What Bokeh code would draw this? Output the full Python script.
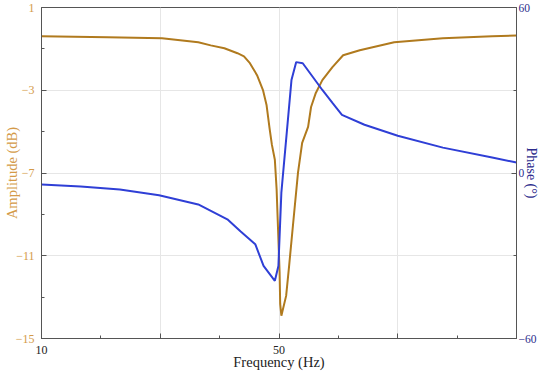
from bokeh.plotting import figure
from bokeh.models import Range1d, LinearAxis, FixedTicker
from bokeh.embed import file_html
from bokeh.resources import INLINE

# ---- data ----
freq_amp = [10, 21.1, 30.3, 36.4, 38.5, 40.8, 43.0, 44.1, 45.1, 46.3, 47.3, 47.9, 48.4, 48.8,
            49.3, 49.6, 49.7, 49.9, 50.1, 50.2, 50.4, 51.2, 51.7, 52.4, 53.2, 53.9, 54.9, 55.4,
            56.2, 57.3, 59.0, 60.8, 63.6, 69.4, 77.6, 85.9, 90]
amp_db = [-0.39, -0.44, -0.49, -0.68, -0.83, -0.97, -1.21, -1.36, -1.69, -2.27, -2.99, -3.71,
          -4.82, -5.63, -6.36, -7.80, -8.62, -10.20, -11.79, -13.33, -13.90, -12.94, -11.50,
          -9.38, -6.98, -5.54, -4.77, -3.81, -3.13, -2.51, -1.88, -1.31, -1.07, -0.68, -0.49,
          -0.39, -0.35]

freq_phase = [10, 16.6, 23.2, 29.8, 36.4, 41.3, 43.5, 46.0, 47.4, 49.3, 49.9, 50.4, 51.2, 52.1,
              52.9, 54.0, 55.7, 57.3, 59.0, 60.6, 64.4, 70.0, 77.6, 85.9, 90]
phase_deg = [-4.2, -4.9, -6.0, -8.1, -11.4, -16.8, -21.1, -25.8, -33.7, -39.1, -33.7, -7.0,
             12.1, 33.7, 40.2, 39.8, 34.8, 30.1, 25.4, 21.1, 17.5, 13.5, 9.2, 5.6, 3.8]

x_ticks = [10, 30, 50, 70, 90]
x_tick_labels = ["10", "", "50", "", ""]
x_minor = [20, 40, 60, 80]
amp_ticks = [1, -3, -7, -11, -15]
amp_tick_labels = ["1", "\u22123", "\u22127", "\u221211", "\u221215"]
amp_minor = [-1, -5, -9, -13]
phase_ticks = [60, 0, -60]
phase_tick_labels = ["60", "0", "\u221260"]
phase_minor = [30, -30]

ORANGE_LINE = "#B07A1E"
ORANGE_TXT = "#D49A48"
BLUE_LINE = "#2F3FD6"
NAVY_TXT = "#2C2C8C"
FONT = "Liberation Serif"

p = figure(width=542, height=372, output_backend="svg", toolbar_location=None,
           x_range=Range1d(10, 90), y_range=Range1d(-15, 1),
           min_border_top=7, min_border_left=0, min_border_right=0, min_border_bottom=0)
p.extra_y_ranges = {"phase": Range1d(-60, 60)}
p.outline_line_color = "#555555"
p.outline_line_width = 1

p.line(freq_amp, amp_db, line_color=ORANGE_LINE, line_width=2)
p.line(freq_phase, phase_deg, line_color=BLUE_LINE, line_width=2, y_range_name="phase")

# x axis
xa = p.xaxis[0]
xa.ticker = FixedTicker(ticks=x_ticks, minor_ticks=x_minor)
xa.major_label_overrides = {t: l for t, l in zip(x_ticks, x_tick_labels)}
xa.axis_label = "Frequency (Hz)"

# left axis
ya = p.yaxis[0]
ya.ticker = FixedTicker(ticks=amp_ticks, minor_ticks=amp_minor)
ya.major_label_overrides = {t: l for t, l in zip(amp_ticks, amp_tick_labels)}
ya.axis_label = "Amplitude (dB)"

# right axis
ra = LinearAxis(y_range_name="phase",
                ticker=FixedTicker(ticks=phase_ticks, minor_ticks=phase_minor))
ra.major_label_overrides = {t: l for t, l in zip(phase_ticks, phase_tick_labels)}
ra.axis_label = "Phase (\u00b0)"
p.add_layout(ra, "right")

for ax in (xa, ya, ra):
    ax.axis_line_color = "#555555"
    ax.major_tick_line_color = "#555555"
    ax.minor_tick_line_color = "#555555"
    ax.major_tick_in = 5
    ax.major_tick_out = 0
    ax.minor_tick_in = 3
    ax.minor_tick_out = 0
    ax.major_label_text_font = FONT
    ax.axis_label_text_font = FONT
    ax.major_label_text_font_size = "12px"
    ax.axis_label_text_font_size = "14.5px"
    ax.axis_label_text_font_style = "normal"

xa.major_label_text_color = "#222222"
xa.axis_label_text_color = "#222222"
xa.major_label_standoff = 7
xa.axis_label_standoff = -3

ya.major_label_text_color = ORANGE_TXT
ya.axis_label_text_color = ORANGE_TXT
ya.major_label_standoff = 7
ya.axis_label_standoff = -7

ra.major_label_text_color = NAVY_TXT
ra.axis_label_text_color = NAVY_TXT
ra.major_label_text_font_size = "11.5px"
ra.axis_label_text_font_size = "14px"
ra.major_label_standoff = 2
ra.axis_label_standoff = -15

p.xgrid.ticker = FixedTicker(ticks=[30, 50, 70])
p.ygrid.ticker = FixedTicker(ticks=[-3, -7, -11])
p.xgrid.grid_line_color = "#E6E6E6"
p.ygrid.grid_line_color = "#E6E6E6"
p.background_fill_color = "white"
p.border_fill_color = "white"

open("out.html", "w").write(file_html(p, INLINE))
